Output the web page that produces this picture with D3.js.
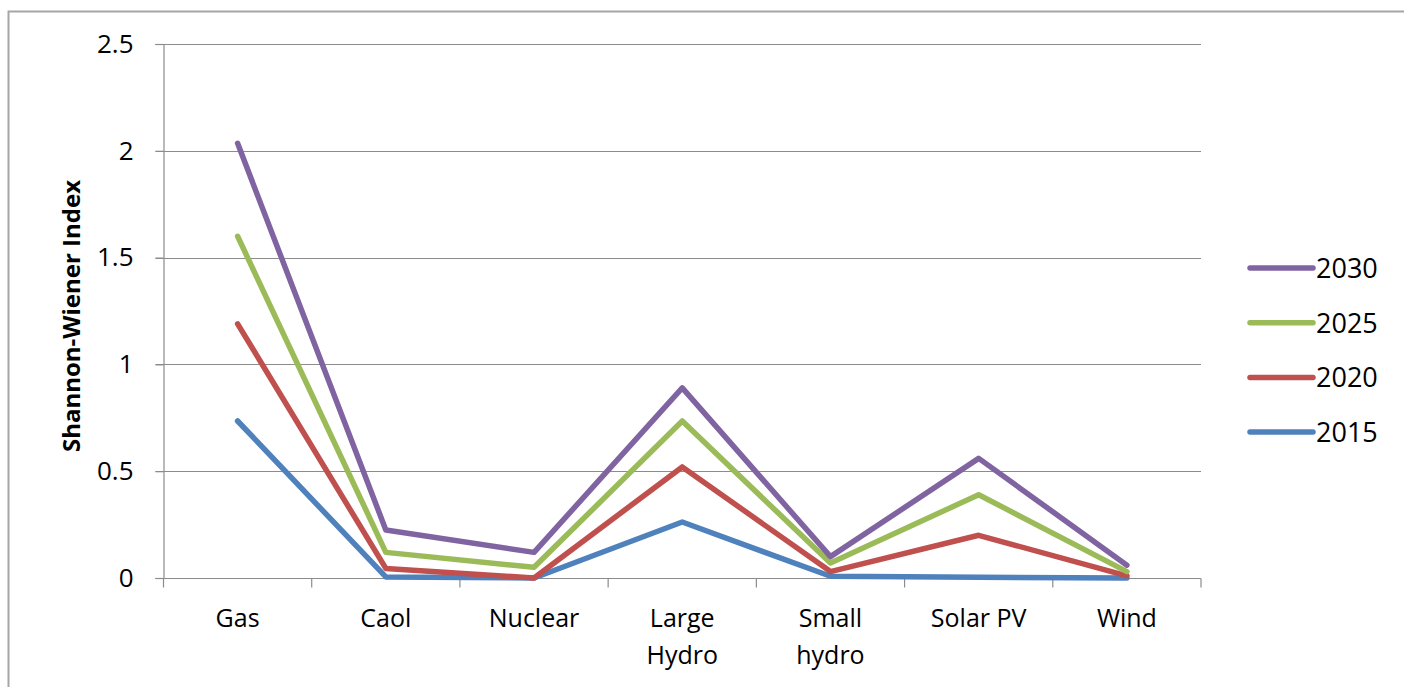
<!DOCTYPE html>
<html><head><meta charset="utf-8">
<script src="https://cdn.jsdelivr.net/npm/d3@7"></script>
<style>
html,body{margin:0;padding:0;background:#fff;}
svg{display:block;font-family:"Open Sans","Liberation Sans",sans-serif;}
</style></head>
<body><svg id="chart" width="1404" height="687"></svg>
<script>
const categories = ["Gas", "Caol", "Nuclear", "Large Hydro", "Small hydro", "Solar PV", "Wind"];
const years = ["2030", "2025", "2020", "2015"];
const v2030 = [2.035, 0.225, 0.12, 0.89, 0.10, 0.56, 0.06];
const v2025 = [1.60, 0.12, 0.05, 0.735, 0.07, 0.39, 0.03];
const v2020 = [1.19, 0.045, 0.0, 0.52, 0.03, 0.20, 0.01];
const v2015 = [0.735, 0.005, 0.0, 0.262, 0.008, 0.003, 0.0];
const colors = ["#8064A2", "#9BBB59", "#C0504D", "#4F81BD"];
const yTicks = [0, 0.5, 1, 1.5, 2, 2.5];
const yTitle = "Shannon-Wiener Index";

const seriesVals = [v2030, v2025, v2020, v2015];
const svg = d3.select("#chart");
const L = 163.5, R = 1201, T = 44, B = 578;

// outer frame
svg.append("rect").attr("x", 8.5).attr("y", 11.5).attr("width", 1420).attr("height", 700)
  .attr("fill", "none").attr("stroke", "#a6a6a6").attr("stroke-width", 2);

const x = d3.scaleBand().domain(categories).range([L, R]).padding(0);
const y = d3.scaleLinear().domain([0, 2.5]).range([B, T]);

// gridlines
svg.append("g").selectAll("line").data(yTicks.filter(d => d > 0)).join("line")
  .attr("x1", L - 8).attr("x2", R).attr("y1", d => Math.round(y(d)) + 0.5).attr("y2", d => Math.round(y(d)) + 0.5)
  .attr("stroke", "#8c8c8c").attr("stroke-width", 1.2);

// y axis
const yAxis = d3.axisLeft(y).tickValues(yTicks).tickSize(8).tickPadding(22).tickFormat(d3.format("~g"));
const gy = svg.append("g").attr("transform", `translate(${L},0)`).call(yAxis);
gy.select(".domain").attr("stroke", "#8c8c8c").attr("stroke-width", 1.2);
gy.selectAll(".tick line").attr("stroke", "#8c8c8c").attr("stroke-width", 1.2);
gy.selectAll(".tick text").attr("font-size", 26).attr("fill", "#000")
  .attr("font-family", "'Open Sans','Liberation Sans',sans-serif");

// x axis
const gx = svg.append("g").attr("transform", `translate(0,${Math.round(B) + 0.5})`);
gx.append("line").attr("x1", L - 8).attr("x2", R).attr("stroke", "#8c8c8c").attr("stroke-width", 1.2);
const bounds = categories.map(c => x(c)).concat([R]);
gx.selectAll("line.tk").data(bounds).join("line").attr("class", "tk")
  .attr("x1", d => d).attr("x2", d => d).attr("y1", 0).attr("y2", 9)
  .attr("stroke", "#8c8c8c").attr("stroke-width", 1.2);
const xl = gx.selectAll("text").data(categories).join("text")
  .attr("x", d => x(d) + x.bandwidth() / 2).attr("y", 48)
  .attr("text-anchor", "middle").attr("font-size", 25).attr("fill", "#000");
xl.each(function(d) {
  const words = d.split(" ");
  const el = d3.select(this);
  if (words.length === 1 || d === "Solar PV") {
    el.text(d);
  } else {
    words.forEach((w, i) => el.append("tspan").attr("x", x(d) + x.bandwidth() / 2).attr("dy", i ? 37 : 0).text(w));
  }
});

// y title
svg.append("text").attr("transform", `translate(80,${(T + B) / 2 + 5}) rotate(-90)`)
  .attr("text-anchor", "middle").attr("font-size", 24).attr("font-weight", "bold").attr("fill", "#000")
  .text(yTitle);

// lines
const line = d3.line().x((d, i) => x(categories[i]) + x.bandwidth() / 2).y(d => y(d));
const order = [3, 2, 1, 0];
svg.append("g").selectAll("path").data(order).join("path")
  .attr("d", i => line(seriesVals[i]))
  .attr("fill", "none").attr("stroke", i => colors[i]).attr("stroke-width", 5.5)
  .attr("stroke-linejoin", "round").attr("stroke-linecap", "round");

// legend
const lg = svg.append("g");
years.forEach((yr, i) => {
  const yy = 268 + i * 54.7;
  lg.append("line").attr("x1", 1250).attr("x2", 1313).attr("y1", yy).attr("y2", yy)
    .attr("stroke", colors[i]).attr("stroke-width", 5.5).attr("stroke-linecap", "round");
  lg.append("text").attr("x", 1316).attr("y", yy + 10).attr("font-size", 27).attr("fill", "#000").text(yr);
});
</script></body></html>
